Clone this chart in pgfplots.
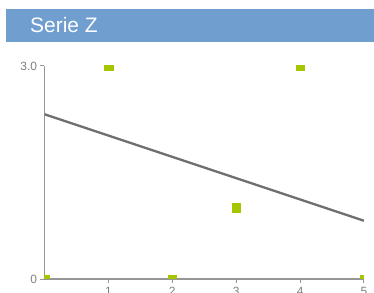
\documentclass[border=0pt]{standalone}
\usepackage{pgfplots}
\pgfplotsset{compat=1.18}
\usepackage{fontspec}
\setmainfont{Liberation Sans}
\definecolor{barblue}{RGB}{112,159,207}
\definecolor{mgreen}{RGB}{166,198,0}
\definecolor{tgray}{RGB}{128,128,128}
\definecolor{agray}{RGB}{150,150,150}
\definecolor{lgray}{RGB}{110,110,110}
\begin{document}
\begin{tikzpicture}[x=1bp,y=1bp]
\useasboundingbox (0,0) rectangle (374,293);
\fill[barblue] (6,251) rectangle (374,284);
\node[anchor=west, text=white, font=\fontsize{21}{24}\selectfont, inner sep=0] at (30,267.5) {Serie Z};
\begin{axis}[
  at={(44.5bp,14bp)}, anchor=south west,
  scale only axis, width=319.5bp, height=213bp,
  xmin=0, xmax=5, ymin=0, ymax=3,
  axis lines=left,
  axis line style={-, draw=agray, line width=1.2bp},
  xtick={1,2,3,4,5}, ytick={0,3}, yticklabels={0,3.0},
  tick align=outside, major tick length=4bp,
  tick style={draw=agray, line width=1bp},
  /pgf/number format/assume math mode=true,
  tick label style={text=tgray, font=\fontsize{12}{14}\selectfont},
  xticklabel style={yshift=-1bp},
  clip=true, clip marker paths=true,
]
\addplot[no markers, draw=lgray, line width=2.3bp] coordinates {(0,2.32) (5,0.82)};
\addplot[only marks, mark=square*, mark size=4.3bp, mgreen] coordinates {
(0,0) (1,3) (2,0) (3,1) (4,3) (5,0)};
\end{axis}
\end{tikzpicture}
\end{document}
